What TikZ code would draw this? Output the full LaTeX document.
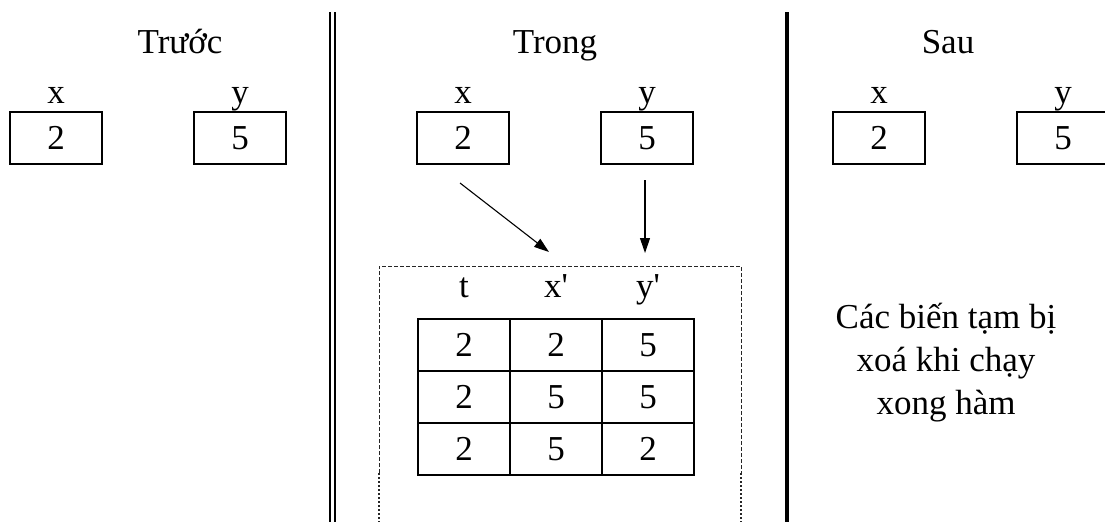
\documentclass[tikz,border=0pt]{standalone}
\usepackage{fontspec}
\setmainfont{Liberation Serif}[Ligatures=TeXOff]
\usetikzlibrary{arrows.meta}
\begin{document}
\begin{tikzpicture}[x=1pt,y=-1pt,
  every node/.style={font=\fontsize{35}{43}\selectfont, inner sep=0pt},
  valbox/.style={draw, line width=1.6pt, minimum width=92pt, minimum height=52pt},
  cell/.style={draw, line width=1.6pt, minimum width=92pt, minimum height=52pt},
  lbl/.style={anchor=base},
  arr/.style={line width=1.1pt, -{Triangle[length=15pt,width=10pt]}},
  frame/.style={line width=0.9pt, draw=black!85, dash pattern=on 4pt off 2pt},
  framedot/.style={line width=1.1pt, draw=black!85, dash pattern=on 1.5pt off 2.5pt}]
\useasboundingbox (0,0) rectangle (1105,522);
% headings
\node[lbl] (h1) at (180,53) {Trước};
\node[lbl] (h2) at (555,53) {Trong};
\node[lbl] (h3) at (948,53) {Sau};
% separators
\draw[line width=1.6pt] (330,12) -- (330,522);
\draw[line width=1.6pt] (335,12) -- (335,522);
\draw[line width=3.2pt] (787,12) -- (787,522);
% before
\node[valbox] (bx) at (56,138) {2};
\node[valbox] (by) at (240,138) {5};
\node[lbl] (bxl) at (56,103) {x};
\node[lbl] (byl) at (240,103) {y};
% during
\node[valbox] (mx) at (463,138) {2};
\node[valbox] (my) at (647,138) {5};
\node[lbl] (mxl) at (463,103) {x};
\node[lbl] (myl) at (647,103) {y};
% after
\node[valbox] (ax) at (879,138) {2};
\node[valbox] (ay) at (1063,138) {5};
\node[lbl] (axl) at (879,103) {x};
\node[lbl] (ayl) at (1063,103) {y};
% frame
\coordinate (f1) at (379,473);
\coordinate (f2) at (379,266);
\coordinate (f3) at (741,266);
\coordinate (f4) at (741,473);
\coordinate (f5) at (379,522);
\coordinate (f6) at (741,522);
\draw[frame] (f1) -- (f2) -- (f3) -- (f4);
\draw[framedot] (f1) -- (f5);
\draw[framedot] (f4) -- (f6);
% table
\node[cell] (c11) at (464,345) {2};
\node[cell] (c12) at (556,345) {2};
\node[cell] (c13) at (648,345) {5};
\node[cell] (c21) at (464,397) {2};
\node[cell] (c22) at (556,397) {5};
\node[cell] (c23) at (648,397) {5};
\node[cell] (c31) at (464,449) {2};
\node[cell] (c32) at (556,449) {5};
\node[cell] (c33) at (648,449) {2};
\node[lbl] (tl) at (464,297) {t};
\node[lbl] (xl) at (556,297) {x'};
\node[lbl] (yl) at (648,297) {y'};
% arrows
\coordinate (a1) at (460,183);
\coordinate (a2) at (549,252);
\coordinate (a3) at (645,180);
\coordinate (a4) at (645,253);
\draw[arr] (a1) -- (a2);
\draw[arr] (a3) -- (a4);
% note
\node[align=center] (note) at (946,363) {Các biến tạm bị\\xoá khi chạy\\xong hàm};
\end{tikzpicture}
\end{document}
